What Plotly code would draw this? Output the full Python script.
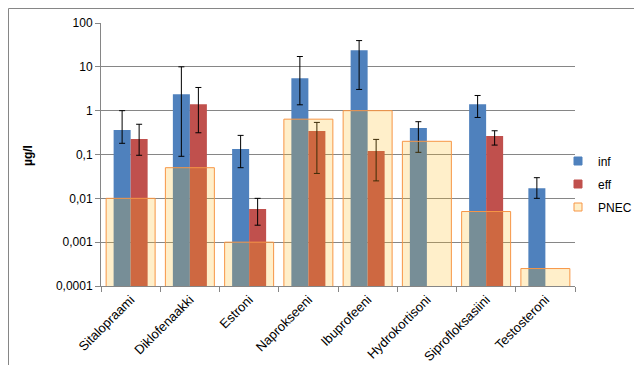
import plotly.graph_objects as go

categories = ["Sitalopraami", "Diklofenaakki", "Estroni", "Naprokseeni",
              "Ibuprofeeni", "Hydrokortisoni", "Siprofloksasiini", "Testosteroni"]
inf_vals = [0.36, 2.38, 0.133, 5.5, 23.9, 0.40, 1.41, 0.017]
inf_hi = [1.0, 10.0, 0.273, 17.2, 39.7, 0.56, 2.22, 0.0296]
inf_lo = [0.18, 0.091, 0.05, 1.36, 3.05, 0.112, 0.70, 0.01]
eff_vals = [0.225, 1.41, 0.0057, 0.343, 0.12, None, 0.264, None]
eff_hi = [0.49, 3.38, 0.01, 0.54, 0.221, None, 0.348, None]
eff_lo = [0.096, 0.313, 0.00244, 0.037, 0.025, None, 0.164, None]
pnec_vals = [0.01, 0.05, 0.001, 0.64, 1.0, 0.2, 0.005, 0.00025]
y_tickvals = [0.0001, 0.001, 0.01, 0.1, 1, 10, 100]
y_ticktext = ["0,0001", "0,001", "0,01", "0,1", "1", "10", "100"]

BLUE = "#4F81BD"
RED = "#C0504D"
ORANGE = "#F79646"
PNEC_FILL = "rgba(255,186,25,0.23)"
GRID = "#868686"
FONT = "Liberation Sans"


def plus(vals, hi):
    return [None if v is None else h - v for v, h in zip(vals, hi)]


def minus(vals, lo):
    return [None if v is None else v - l for v, l in zip(vals, lo)]


fig = go.Figure()
err_style = dict(type="data", color="black", thickness=1, width=3, visible=True)

fig.add_trace(go.Bar(
    x=categories, y=inf_vals, name="inf", showlegend=False,
    width=0.287, offset=-0.287, marker=dict(color=BLUE, line=dict(width=0)),
    error_y=dict(array=plus(inf_vals, inf_hi), arrayminus=minus(inf_vals, inf_lo), symmetric=False, **err_style),
))
fig.add_trace(go.Bar(
    x=categories, y=eff_vals, name="eff", showlegend=False,
    width=0.287, offset=0.0, marker=dict(color=RED, line=dict(width=0)),
    error_y=dict(array=plus(eff_vals, eff_hi), arrayminus=minus(eff_vals, eff_lo), symmetric=False, **err_style),
))
fig.add_trace(go.Bar(
    x=categories, y=pnec_vals, name="PNEC", showlegend=False,
    width=0.827, offset=-0.4135,
    marker=dict(color=PNEC_FILL, line=dict(color=ORANGE, width=1)),
))

# legend entries
for i, (nm, fill, line) in enumerate([("inf", BLUE, BLUE), ("eff", RED, RED),
                                       ("PNEC", "#FFEFC8", ORANGE)]):
    fig.add_trace(go.Scatter(
        x=[None], y=[None], mode="markers", name=nm, legendgroup=nm,
        marker=dict(symbol="square", size=8, color=fill, line=dict(color=line, width=1)),
    ))

# outer chart border
pw, ph = 474, 263
fig.add_shape(type="rect", xref="paper", yref="paper",
              x0=(0.5 - 93) / pw, x1=(641.5 - 93) / pw,
              y0=(278 - 364.5) / ph, y1=(278 - 0.5) / ph,
              line=dict(color=GRID, width=1), fillcolor="rgba(0,0,0,0)", layer="below")

fig.add_annotation(text="<b>µg/l</b>", xref="paper", yref="paper",
                   x=(20 - 93) / pw, y=(278 - 148) / ph, textangle=-90,
                   xanchor="center", yanchor="middle",
                   showarrow=False, font=dict(family=FONT, size=12, color="black"))

fig.update_layout(
    width=642, height=365,
    margin=dict(l=93, r=75, t=15, b=87, autoexpand=False),
    barmode="overlay",
    plot_bgcolor="white", paper_bgcolor="white",
    font=dict(family=FONT, size=12, color="black"),
    showlegend=True,
    legend=dict(x=(550 - 93) / pw, y=(278 - 176) / ph, xanchor="left", yanchor="middle",
                traceorder="grouped", tracegroupgap=4, itemwidth=30,
                font=dict(family=FONT, size=12, color="black"), bgcolor="rgba(0,0,0,0)"),
    xaxis=dict(type="category", showline=True, linecolor=GRID, linewidth=1,
               ticks="outside", tickson="boundaries", ticklen=5, tickcolor=GRID,
               tickangle=-45, showgrid=False, range=[-0.5, 7.5], automargin=False,
               tickfont=dict(family=FONT, size=13, color="black")),
    yaxis=dict(type="log", range=[-4, 2], tickvals=y_tickvals, ticktext=y_ticktext,
               showline=True, linecolor=GRID, linewidth=1, ticks="outside", automargin=False,
               ticklen=5, tickcolor=GRID, showgrid=True, gridcolor=GRID, gridwidth=1,
               zeroline=False, tickfont=dict(family=FONT, size=12, color="black")),
)

fig.write_html("out.html")
